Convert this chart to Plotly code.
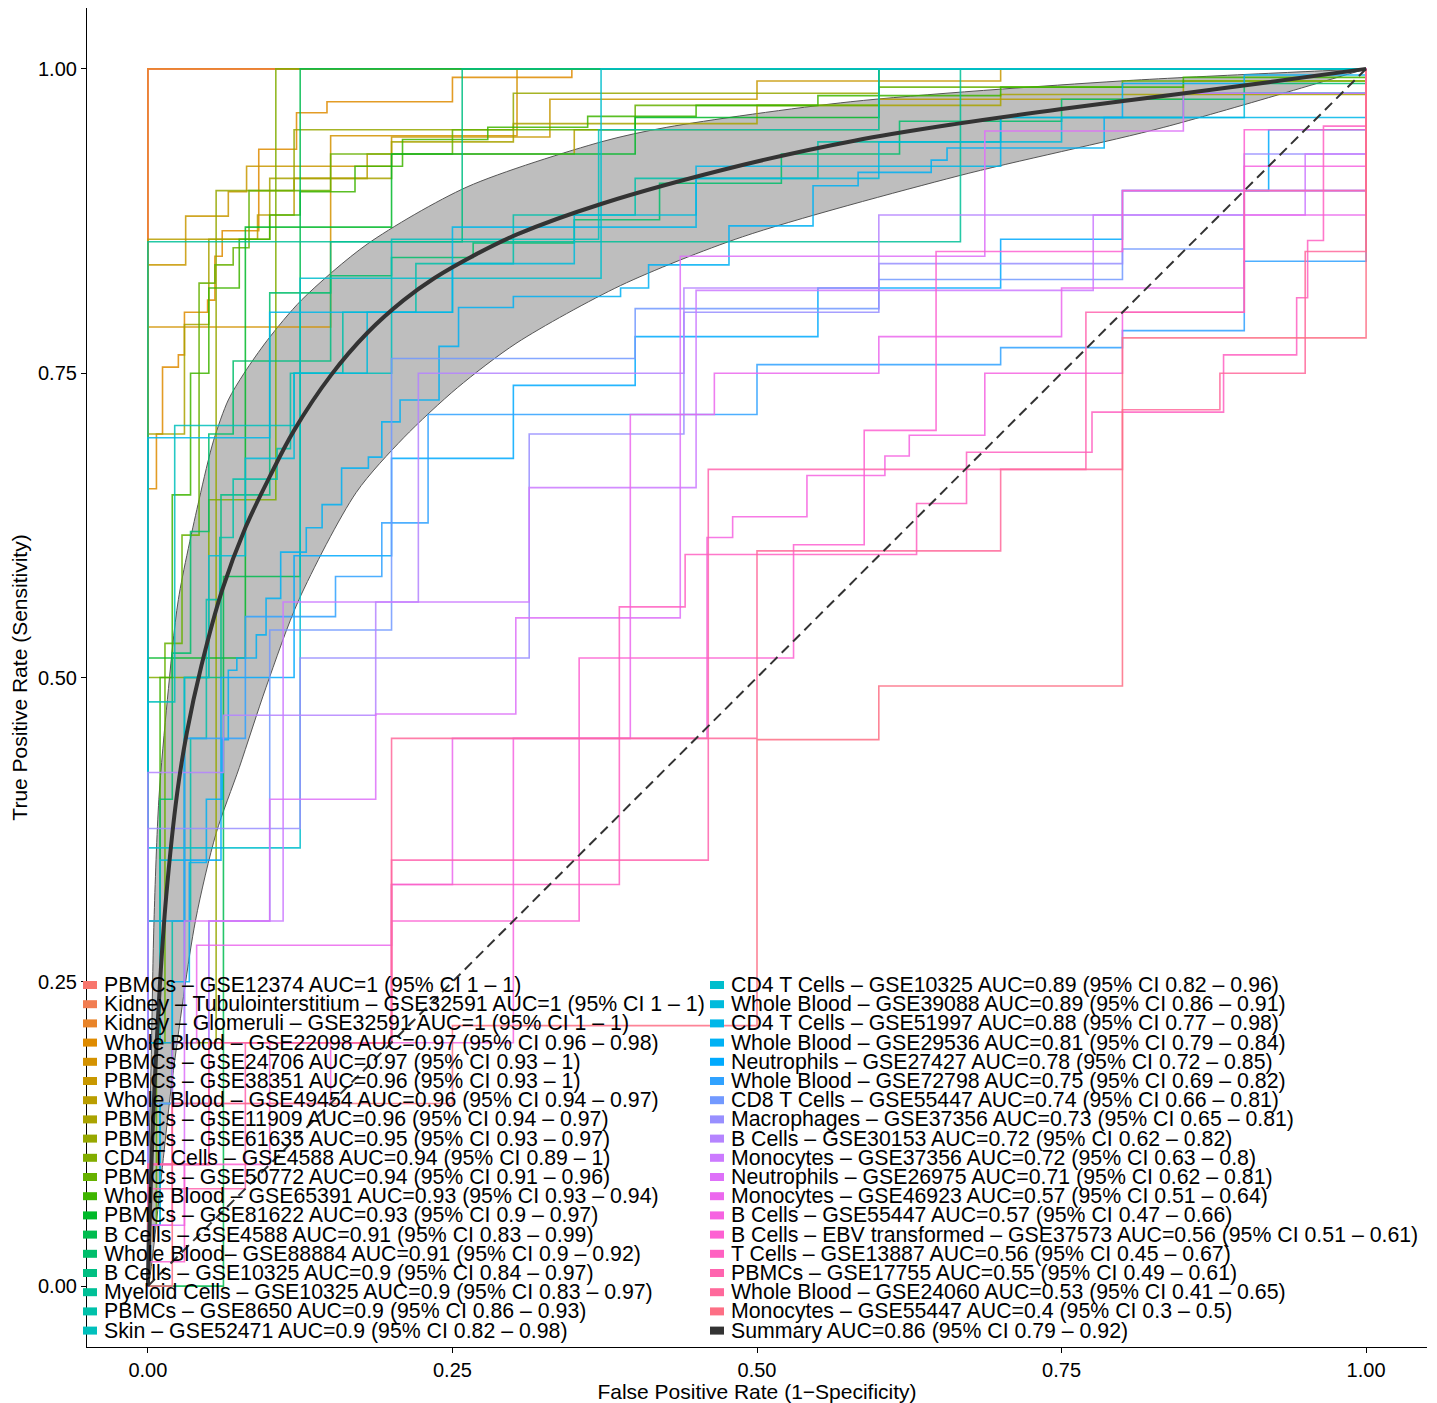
import math
import plotly.graph_objects as go

# ---------------- data ----------------
dataset_labels = [
    "PBMCs – GSE12374 AUC=1 (95% CI 1 – 1)",
    "Kidney – Tubulointerstitium – GSE32591 AUC=1 (95% CI 1 – 1)",
    "Kidney – Glomeruli – GSE32591 AUC=1 (95% CI 1 – 1)",
    "Whole Blood – GSE22098 AUC=0.97 (95% CI 0.96 – 0.98)",
    "PBMCs – GSE24706 AUC=0.97 (95% CI 0.93 – 1)",
    "PBMCs – GSE38351 AUC=0.96 (95% CI 0.93 – 1)",
    "Whole Blood – GSE49454 AUC=0.96 (95% CI 0.94 – 0.97)",
    "PBMCs – GSE11909 AUC=0.96 (95% CI 0.94 – 0.97)",
    "PBMCs – GSE61635 AUC=0.95 (95% CI 0.93 – 0.97)",
    "CD4 T Cells – GSE4588 AUC=0.94 (95% CI 0.89 – 1)",
    "PBMCs – GSE50772 AUC=0.94 (95% CI 0.91 – 0.96)",
    "Whole Blood – GSE65391 AUC=0.93 (95% CI 0.93 – 0.94)",
    "PBMCs – GSE81622 AUC=0.93 (95% CI 0.9 – 0.97)",
    "B Cells – GSE4588 AUC=0.91 (95% CI 0.83 – 0.99)",
    "Whole Blood– GSE88884 AUC=0.91 (95% CI 0.9 – 0.92)",
    "B Cells – GSE10325 AUC=0.9 (95% CI 0.84 – 0.97)",
    "Myeloid Cells – GSE10325 AUC=0.9 (95% CI 0.83 – 0.97)",
    "PBMCs – GSE8650 AUC=0.9 (95% CI 0.86 – 0.93)",
    "Skin – GSE52471 AUC=0.9 (95% CI 0.82 – 0.98)",
    "CD4 T Cells – GSE10325 AUC=0.89 (95% CI 0.82 – 0.96)",
    "Whole Blood – GSE39088 AUC=0.89 (95% CI 0.86 – 0.91)",
    "CD4 T Cells – GSE51997 AUC=0.88 (95% CI 0.77 – 0.98)",
    "Whole Blood – GSE29536 AUC=0.81 (95% CI 0.79 – 0.84)",
    "Neutrophils – GSE27427 AUC=0.78 (95% CI 0.72 – 0.85)",
    "Whole Blood – GSE72798 AUC=0.75 (95% CI 0.69 – 0.82)",
    "CD8 T Cells – GSE55447 AUC=0.74 (95% CI 0.66 – 0.81)",
    "Macrophages – GSE37356 AUC=0.73 (95% CI 0.65 – 0.81)",
    "B Cells – GSE30153 AUC=0.72 (95% CI 0.62 – 0.82)",
    "Monocytes – GSE37356 AUC=0.72 (95% CI 0.63 – 0.8)",
    "Neutrophils – GSE26975 AUC=0.71 (95% CI 0.62 – 0.81)",
    "Monocytes – GSE46923 AUC=0.57 (95% CI 0.51 – 0.64)",
    "B Cells – GSE55447 AUC=0.57 (95% CI 0.47 – 0.66)",
    "B Cells – EBV transformed – GSE37573 AUC=0.56 (95% CI 0.51 – 0.61)",
    "T Cells – GSE13887 AUC=0.56 (95% CI 0.45 – 0.67)",
    "PBMCs – GSE17755 AUC=0.55 (95% CI 0.49 – 0.61)",
    "Whole Blood – GSE24060 AUC=0.53 (95% CI 0.41 – 0.65)",
    "Monocytes – GSE55447 AUC=0.4 (95% CI 0.3 – 0.5)",
]
summary_label = "Summary AUC=0.86 (95% CI 0.79 – 0.92)"

# ROC step vertices (false positive rate, true positive rate) per dataset
roc_fpr = [
    [0, 0, 1],
    [0, 0, 1],
    [0, 0, 1],
    [0, 0, 0.007, 0.012, 0.025, 0.03, 0.049, 0.055, 0.061, 0.091, 0.122, 0.147, 0.25, 0.348, 1],
    [0, 0, 0.15, 0.303, 1],
    [0, 0, 0.031, 0.066, 0.081, 0.2, 0.33, 0.5, 0.7, 1],
    [0, 0, 0.09, 0.12, 0.18, 0.35, 0.6, 0.85, 1],
    [0, 0, 0.03, 0.05, 0.1, 0.2, 0.3, 0.5, 0.7, 1],
    [0, 0, 0.056, 0.12, 0.3, 0.6, 1],
    [0, 0, 0.05, 0.105, 1],
    [0, 0, 0.007, 0.014, 0.028, 0.042, 0.055, 0.07, 0.083, 0.15, 0.25, 0.4, 0.6, 0.8, 1],
    [0, 0, 0.01, 0.02, 0.035, 0.05, 0.075, 0.1, 0.125, 0.17, 0.209, 0.279, 0.361, 0.45, 0.55, 0.7, 0.85, 1],
    [0, 0, 0.08, 0.2, 0.4, 0.6, 1],
    [0, 0.062, 0.125, 1],
    [0, 0, 0.01, 0.02, 0.035, 0.05, 0.07, 0.1, 0.15, 0.2, 0.267, 0.35, 0.42, 0.52, 0.617, 0.75, 0.9, 1],
    [0, 0, 0.03, 0.06, 0.1, 0.15, 0.258, 1],
    [0, 0, 0.667, 1],
    [0, 0, 0.01, 0.02, 0.035, 0.048, 0.059, 0.07, 0.106, 0.117, 0.16, 0.22, 0.3, 0.4, 0.55, 0.7, 0.85, 1],
    [0, 0, 0.022, 0.12, 0.2, 0.37, 0.6, 1],
    [0, 0, 0.125, 0.372, 1],
    [0, 0, 0.01, 0.03, 0.05, 0.08, 0.12, 0.18, 0.25, 0.35, 0.45, 0.6, 0.75, 0.9, 1],
    [0, 0, 0.1, 0.25, 0.45, 0.7, 1],
    [0, 0, 0.01, 0.02, 0.034, 0.048, 0.061, 0.066, 0.073, 0.089, 0.097, 0.109, 0.13, 0.143, 0.159, 0.181,
     0.192, 0.207, 0.239, 0.255, 0.3, 0.388, 0.411, 0.477, 0.546, 0.583, 0.643, 0.656, 0.785, 0.8, 0.9, 1],
    [0, 0, 0.03, 0.06, 0.12, 0.2, 0.3, 0.4, 0.55, 0.7, 0.8, 0.92, 1],
    [0, 0, 0.03, 0.08, 0.154, 0.192, 0.23, 0.5, 0.7, 0.8, 0.9, 1],
    [0, 0, 0.05, 0.1, 0.2, 0.4, 0.6, 0.8, 0.9, 1],
    [0, 0, 0.125, 0.313, 0.44, 0.6, 0.8, 0.9, 1],
    [0, 0, 0.062, 0.187, 0.222, 0.44, 0.6, 0.8, 1],
    [0, 0, 0.05, 0.111, 0.313, 0.45, 0.776, 0.95, 1],
    [0, 0, 0.03, 0.1, 0.187, 0.302, 0.437, 0.687, 0.85, 1],
    [0, 0, 0.02, 0.04, 0.2, 0.25, 0.396, 0.465, 0.6, 0.75, 0.9, 1],
    [0, 0, 0.02, 0.15, 0.3, 0.459, 0.48, 0.541, 0.605, 0.625, 0.687, 0.8, 0.9, 1],
    [0, 0, 0.03, 0.1, 0.2, 0.354, 0.53, 0.588, 0.647, 0.8, 0.9, 1],
    [0, 0, 0.05, 0.2, 0.387, 0.441, 0.631, 0.672, 0.775, 0.883, 0.943, 0.952, 0.965, 1],
    [0, 0, 0.08, 0.2, 0.46, 0.77, 0.9, 1],
    [0, 0, 0.05, 0.2, 0.5, 0.7, 0.8, 0.88, 0.95, 1],
    [0, 0.02, 0.25, 0.5, 0.6, 0.8, 1],
]
roc_tpr = [
    [0, 1, 1],
    [0, 1, 1],
    [0, 1, 1],
    [0, 0.655, 0.70, 0.755, 0.765, 0.80, 0.81, 0.846, 0.867, 0.934, 0.964, 0.973, 0.993, 1, 1],
    [0, 0.788, 0.945, 1, 1],
    [0, 0.839, 0.879, 0.899, 0.92, 0.944, 0.975, 0.99, 1, 1],
    [0, 0.86, 0.88, 0.91, 0.93, 0.95, 0.975, 0.99, 1],
    [0, 0.70, 0.79, 0.86, 0.91, 0.94, 0.955, 0.97, 0.979, 1],
    [0, 0.2, 0.9, 0.95, 0.98, 1, 1],
    [0, 0.5, 0.646, 1, 1],
    [0, 0.05, 0.2, 0.528, 0.617, 0.824, 0.839, 0.853, 0.90, 0.93, 0.95, 0.97, 0.985, 0.99, 1],
    [0, 0.3, 0.5, 0.65, 0.75, 0.82, 0.86, 0.88, 0.899, 0.92, 0.942, 0.952, 0.961, 0.97, 0.978, 0.985, 0.993, 1],
    [0, 0.516, 0.87, 0.93, 0.96, 1, 1],
    [0, 0.583, 1, 1],
    [0, 0.2, 0.4, 0.52, 0.62, 0.7, 0.76, 0.816, 0.83, 0.845, 0.857, 0.876, 0.906, 0.93, 0.957, 0.975, 0.988, 1],
    [0, 0.3, 0.5, 0.65, 0.76, 0.858, 1, 1],
    [0, 0.858, 1, 1],
    [0, 0.05, 0.15, 0.3, 0.45, 0.564, 0.615, 0.663, 0.688, 0.75, 0.8, 0.84, 0.88, 0.91, 0.94, 0.96, 0.98, 1],
    [0, 0.48, 0.707, 0.75, 0.86, 0.95, 1, 1],
    [0, 0.36, 0.828, 1, 1],
    [0, 0.2, 0.35, 0.5, 0.6, 0.68, 0.75, 0.8, 0.84, 0.88, 0.91, 0.94, 0.96, 0.98, 1],
    [0, 0.697, 0.8, 0.87, 0.92, 0.96, 1],
    [0, 0.05, 0.15, 0.25, 0.348, 0.40, 0.449, 0.506, 0.516, 0.535, 0.565, 0.603, 0.623, 0.642, 0.672, 0.681,
     0.71, 0.728, 0.772, 0.804, 0.813, 0.82, 0.839, 0.871, 0.904, 0.915, 0.925, 0.935, 0.96, 0.988, 0.995, 1],
    [0, 0.2, 0.35, 0.5, 0.6, 0.68, 0.74, 0.78, 0.82, 0.86, 0.9, 0.95, 1],
    [0, 0.3, 0.45, 0.55, 0.583, 0.627, 0.716, 0.757, 0.771, 0.785, 0.842, 1],
    [0, 0.15, 0.3, 0.539, 0.762, 0.803, 0.827, 0.852, 0.9, 1],
    [0, 0.376, 0.516, 0.7, 0.8, 0.84, 0.88, 0.93, 1],
    [0, 0.422, 0.469, 0.562, 0.75, 0.82, 0.88, 0.9, 1],
    [0, 0.1, 0.3, 0.562, 0.656, 0.818, 0.88, 0.93, 1],
    [0, 0.05, 0.3, 0.4, 0.47, 0.549, 0.846, 0.949, 0.98, 1],
    [0, 0.05, 0.2, 0.28, 0.33, 0.45, 0.716, 0.75, 0.78, 0.82, 0.88, 1],
    [0, 0.1, 0.15, 0.2, 0.45, 0.615, 0.632, 0.666, 0.682, 0.699, 0.75, 0.8, 0.92, 1],
    [0, 0.02, 0.1, 0.2, 0.3, 0.516, 0.609, 0.703, 0.85, 0.9, 0.95, 1],
    [0, 0.1, 0.2, 0.33, 0.558, 0.601, 0.643, 0.685, 0.718, 0.765, 0.812, 0.859, 0.953, 1],
    [0, 0.08, 0.2, 0.35, 0.671, 0.8, 0.9, 1],
    [0, 0.1, 0.2, 0.45, 0.604, 0.671, 0.72, 0.75, 0.85, 1],
    [0, 0.15, 0.214, 0.449, 0.493, 0.779, 1],
]

# summary ROC curve and its confidence band
summary_fpr = [0, 0.004, 0.01, 0.015, 0.024, 0.032, 0.044, 0.061, 0.08, 0.10, 0.12, 0.15, 0.18, 0.21,
               0.235, 0.27, 0.303, 0.372, 0.488, 0.58, 0.665, 0.75, 0.843, 0.92, 1.0]
summary_tpr = [0, 0.13, 0.25, 0.32, 0.405, 0.455, 0.51, 0.572, 0.623, 0.665, 0.703, 0.748, 0.783, 0.81,
               0.828, 0.848, 0.864, 0.889, 0.921, 0.941, 0.955, 0.967, 0.979, 0.989, 1.0]
band_upper_fpr = [0, 0.003, 0.005, 0.009, 0.016, 0.025, 0.042, 0.054, 0.066, 0.079, 0.098, 0.126, 0.18,
                  0.262, 0.372, 0.426, 0.577, 0.798, 1.0]
band_upper_tpr = [0, 0.2, 0.30, 0.40, 0.482, 0.564, 0.646, 0.695, 0.728, 0.75, 0.777, 0.81, 0.856,
                  0.903, 0.94, 0.952, 0.973, 0.99, 1.0]
band_lower_fpr = [0, 0.02, 0.039, 0.056, 0.075, 0.097, 0.124, 0.171, 0.21, 0.254, 0.303, 0.388, 0.488,
                  0.665, 0.834, 1.0]
band_lower_tpr = [0, 0.17, 0.30, 0.372, 0.426, 0.492, 0.564, 0.652, 0.697, 0.738, 0.775, 0.822, 0.862,
                  0.912, 0.952, 1.0]
chance_line = [0, 1]

tick_vals = [0, 0.25, 0.5, 0.75, 1.0]
tick_text = ["0.00", "0.25", "0.50", "0.75", "1.00"]


# ---------------- colours (ggplot2 hue palette) ----------------
def _gtrans(u):
    return 1.055 * u ** (1 / 2.4) - 0.055 if u > 0.00304 else 12.92 * u


def hcl_hex(h, c=100.0, l=65.0):
    wy, wu, wv = 100.0, 0.1978398, 0.4683363
    hr = math.radians(h)
    U, V = c * math.cos(hr), c * math.sin(hr)
    Y = wy * (((l + 16) / 116) ** 3 if l > 7.999592 else l / 903.3)
    u = U / (13 * l) + wu
    v = V / (13 * l) + wv
    X = 9.0 * Y * u / (4 * v)
    Z = -X / 3 - 5 * Y + 3 * Y / v
    rgb = [
        (3.240479 * X - 1.537150 * Y - 0.498535 * Z) / wy,
        (-0.969256 * X + 1.875992 * Y + 0.041556 * Z) / wy,
        (0.055648 * X - 0.204043 * Y + 1.057311 * Z) / wy,
    ]
    out = []
    for ch in rgb:
        ch = min(1.0, max(0.0, _gtrans(ch)))
        out.append(int(round(ch * 255)))
    return "#%02X%02X%02X" % tuple(out)


n = len(dataset_labels)
colors = [hcl_hex(15 + 360.0 * i / n) for i in range(n)]
summary_color = "#333333"

# ---------------- figure ----------------
PAGE_OFF = 8                      # default body margin of the html page
W, H = 1437 - PAGE_OFF, 1403 - PAGE_OFF
ML, MR, MT, MB = 79, 10, 0, 56
PW, PH = W - ML - MR, H - MT - MB
FONT = "Liberation Sans, Arial, Helvetica, sans-serif"

fig = go.Figure()

# confidence band
fig.add_trace(go.Scatter(
    x=band_upper_fpr + band_lower_fpr[::-1],
    y=band_upper_tpr + band_lower_tpr[::-1],
    mode="lines", fill="toself", fillcolor="#BEBEBE",
    line=dict(color="#555555", width=1, shape="spline", smoothing=0.8),
    hoverinfo="skip", showlegend=False,
))

# individual ROC curves
for i in range(n):
    fig.add_trace(go.Scatter(
        x=roc_fpr[i], y=roc_tpr[i], mode="lines",
        line=dict(color=colors[i], width=1.6, shape="hv"),
        opacity=0.85, name=dataset_labels[i], showlegend=False,
    ))

# summary curve
fig.add_trace(go.Scatter(
    x=summary_fpr, y=summary_tpr, mode="lines",
    line=dict(color=summary_color, width=4, shape="spline", smoothing=1.0),
    name=summary_label, showlegend=False,
))

# chance diagonal
fig.add_trace(go.Scatter(
    x=chance_line, y=chance_line, mode="lines",
    line=dict(color=summary_color, width=2, dash="10px,6px"),
    hoverinfo="skip", showlegend=False,
))

# ---------------- legend drawn as text rows (two columns) ----------------
all_labels = dataset_labels + [summary_label]
all_colors = colors + [summary_color]
rows_per_col = 19
row0_px = 985.0
row_step = 19.2
col_key_px = [83, 710]
col_text_px = [102, 729]


def px_to_paper_x(px):
    return (px - PAGE_OFF - ML) / PW


def py_to_paper_y(py):
    return (H - MB - (py - PAGE_OFF)) / PH


annotations = []
shapes = []
for k, (lab, col) in enumerate(zip(all_labels, all_colors)):
    c = k // rows_per_col
    r = k % rows_per_col
    cy = row0_px + r * row_step
    annotations.append(dict(
        x=px_to_paper_x(col_text_px[c]), y=py_to_paper_y(cy), xref="paper", yref="paper",
        xanchor="left", yanchor="middle", text=lab, showarrow=False,
        font=dict(family=FONT, size=21.3, color="black"),
    ))
    shapes.append(dict(
        type="rect", xref="paper", yref="paper",
        x0=px_to_paper_x(col_key_px[c]), x1=px_to_paper_x(col_key_px[c] + 14),
        y0=py_to_paper_y(cy + 4), y1=py_to_paper_y(cy - 4),
        fillcolor=col, line=dict(width=0), layer="above",
    ))

axis_common = dict(
    range=[-0.05, 1.05], tickvals=tick_vals, ticktext=tick_text,
    showgrid=False, zeroline=False, showline=True, linecolor="black", linewidth=1.2,
    ticks="outside", ticklen=5, tickwidth=1.2, tickcolor="black",
    tickfont=dict(family=FONT, size=20, color="black"),
    automargin=False,
)

fig.update_layout(
    width=W, height=H,
    margin=dict(l=ML, r=MR, t=MT, b=MB),
    plot_bgcolor="white", paper_bgcolor="white",
    showlegend=False,
    font=dict(family=FONT, color="black"),
    xaxis=dict(**axis_common,
               title=dict(text="False Positive Rate (1−Specificity)", standoff=4,
                          font=dict(family=FONT, size=21, color="black"))),
    yaxis=dict(**axis_common,
               title=dict(text="True Positive Rate (Sensitivity)", standoff=6,
                          font=dict(family=FONT, size=21, color="black"))),
    annotations=annotations,
    shapes=shapes,
)

fig.write_html("out.html")
